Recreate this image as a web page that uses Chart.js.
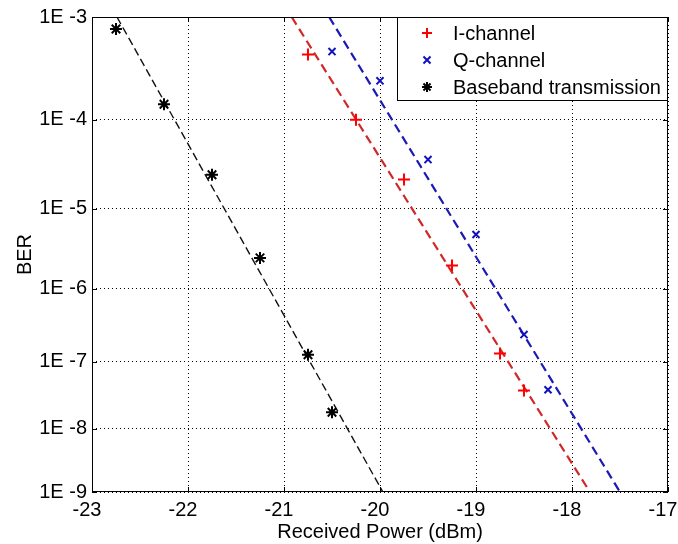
<!DOCTYPE html>
<html>
<head>
<meta charset="utf-8">
<script src="https://cdn.jsdelivr.net/npm/chart.js@4.4.1/dist/chart.umd.min.js"></script>
<style>
  html, body { margin: 0; padding: 0; background: #fff; }
  #wrap { width: 678px; height: 544px; }
</style>
</head>
<body>
<div id="wrap"><canvas id="berChart" width="678" height="544"></canvas></div>
<script>
// x ticks (dBm) and y ticks (BER exponents)
const xTicks = [-23, -22, -21, -20, -19, -18, -17];
const yExps = [-3, -4, -5, -6, -7, -8, -9];
const yTickLabels = ["1E -3", "1E -4", "1E -5", "1E -6", "1E -7", "1E -8", "1E -9"];

// measured points
const iX = [-20.75, -20.25, -19.75, -19.25, -18.75, -18.5];
const iBER = [4.5e-4, 1.0e-4, 2.2e-5, 2.0e-6, 1.3e-7, 3.8e-8];
const qX = [-20.5, -20.0, -19.5, -19.0, -18.5, -18.25];
const qBER = [4.8e-4, 2.5e-4, 3.7e-5, 4.9e-6, 2.4e-7, 3.9e-8];
const baseX = [-22.75, -22.25, -21.75, -21.25, -20.75, -20.5];
const baseBER = [7.8e-4, 1.45e-4, 2.5e-5, 2.5e-6, 1.25e-7, 1.8e-8];

// fitted lines (end points)
const iFitX = [-20.92, -17.83];
const iFitBER = [1e-3, 1.1e-9];
const qFitX = [-20.53, -17.5];
const qFitBER = [1e-3, 1e-9];
const baseFitX = [-22.74, -19.97];
const baseFitBER = [1e-3, 1e-9];

// BER axis is linear in Q (inverse normal), like the usual BER paper
function normInv(p) {
  const a = [-3.969683028665376e+01, 2.209460984245205e+02, -2.759285104469687e+02, 1.383577518672690e+02, -3.066479806614716e+01, 2.506628277459239e+00];
  const b = [-5.447609879822406e+01, 1.615858368580409e+02, -1.556989798598866e+02, 6.680131188771972e+01, -1.328068155288572e+01];
  const c = [-7.784894002430293e-03, -3.223964580411365e-01, -2.400758277161838e+00, -2.549732539343734e+00, 4.374664141464968e+00, 2.938163982698783e+00];
  const d = [7.784695709041462e-03, 3.224671290700398e-01, 2.445134137142996e+00, 3.754408661907416e+00];
  const pl = 0.02425;
  if (p < pl) {
    const q = Math.sqrt(-2 * Math.log(p));
    return (((((c[0]*q+c[1])*q+c[2])*q+c[3])*q+c[4])*q+c[5]) /
           ((((d[0]*q+d[1])*q+d[2])*q+d[3])*q+1);
  }
  const q = p - 0.5, r = q * q;
  return (((((a[0]*r+a[1])*r+a[2])*r+a[3])*r+a[4])*r+a[5])*q /
         (((((b[0]*r+b[1])*r+b[2])*r+b[3])*r+b[4])*r+1);
}
const qOf = (ber) => -normInv(ber);
const toPts = (xs, bers) => xs.map((x, i) => ({ x: x, y: qOf(bers[i]) }));

const FONT = "'Liberation Sans', Arial, sans-serif";

const boxPlugin = {
  id: "box",
  afterDraw(chart) {
    const { ctx, chartArea: a, scales } = chart;
    ctx.save();
    ctx.strokeStyle = "#000";
    ctx.lineWidth = 1;
    ctx.strokeRect(a.left + 0.5, a.top + 0.5, a.right - a.left - 1, a.bottom - a.top - 1);
    // inward tick marks
    const tl = 5;
    ctx.beginPath();
    xTicks.forEach((v) => {
      const px = Math.round(scales.x.getPixelForValue(v)) + 0.5;
      ctx.moveTo(px, a.bottom); ctx.lineTo(px, a.bottom - tl);
      ctx.moveTo(px, a.top); ctx.lineTo(px, a.top + tl);
    });
    yExps.forEach((e) => {
      const py = Math.round(scales.y.getPixelForValue(qOf(Math.pow(10, e)))) + 0.5;
      ctx.moveTo(a.left, py); ctx.lineTo(a.left + tl, py);
      ctx.moveTo(a.right, py); ctx.lineTo(a.right - tl, py);
    });
    ctx.stroke();

    // legend box in the upper right corner
    const lx = 397, ly = a.top, lw = a.right - lx, lh = 84;
    ctx.fillStyle = "#fff";
    ctx.fillRect(lx, ly, lw, lh);
    ctx.strokeRect(lx + 0.5, ly + 0.5, lw - 1, lh - 1);
    const items = [chart.data.datasets[0], chart.data.datasets[1], chart.data.datasets[2]];
    ctx.font = "20px " + FONT;
    ctx.textBaseline = "middle";
    ctx.textAlign = "left";
    items.forEach((ds, i) => {
      const y = ly + 16 + i * 27;
      ctx.strokeStyle = ds.borderColor;
      ctx.lineWidth = ds.pointBorderWidth;
      Chart.helpers.drawPoint(ctx, { pointStyle: ds.pointStyle, radius: 5, rotation: 0, borderWidth: ds.pointBorderWidth }, lx + 30, y);
      ctx.fillStyle = "#000";
      ctx.fillText(ds.label, lx + 56, y + 1);
    });
    ctx.restore();
  }
};

new Chart(document.getElementById("berChart"), {
  type: "scatter",
  data: {
    datasets: [
      { label: "I-channel", data: toPts(iX, iBER), pointStyle: "cross", pointRadius: 6, pointBorderWidth: 2, borderColor: "#ff0000", backgroundColor: "#ff0000", showLine: false },
      { label: "Q-channel", data: toPts(qX, qBER), pointStyle: "crossRot", pointRadius: 5, pointBorderWidth: 2, borderColor: "#1010c0", backgroundColor: "#1010c0", showLine: false },
      { label: "Baseband transmission", data: toPts(baseX, baseBER), pointStyle: "star", pointRadius: 6, pointBorderWidth: 2, borderColor: "#000", backgroundColor: "#000", showLine: false },
      { label: "I fit", data: toPts(iFitX, iFitBER), showLine: true, pointRadius: 0, borderColor: "#d02828", borderWidth: 2.2, borderDash: [9, 5] },
      { label: "Q fit", data: toPts(qFitX, qFitBER), showLine: true, pointRadius: 0, borderColor: "#1a1ab4", borderWidth: 2.2, borderDash: [9, 5] },
      { label: "Baseband fit", data: toPts(baseFitX, baseFitBER), showLine: true, pointRadius: 0, borderColor: "#111", borderWidth: 1.4, borderDash: [8, 4] }
    ]
  },
  options: {
    responsive: false,
    animation: false,
    devicePixelRatio: 1,
    layout: { padding: { left: 0, top: 17, right: 10, bottom: 0 } },
    plugins: { legend: { display: false }, tooltip: { enabled: false } },
    scales: {
      x: {
        type: "linear",
        min: -23,
        max: -17,
        afterBuildTicks: (s) => { s.ticks = xTicks.map((v) => ({ value: v })); },
        afterFit: (s) => { s.height = 52; s.paddingLeft = 0; s.paddingRight = 0; },
        grid: { color: "#000", lineWidth: 1, drawTicks: false },
        border: { display: false, dash: [1, 3] },
        ticks: { color: "#000", padding: 6, labelOffset: -5, font: { family: FONT, size: 20 }, maxRotation: 0, callback: (v) => String(v) },
        title: { display: true, text: "Received Power (dBm)", color: "#000", font: { family: FONT, size: 20 }, padding: { top: 0, bottom: 0 } }
      },
      y: {
        type: "linear",
        reverse: true,
        min: qOf(1e-3),
        max: qOf(1e-9),
        afterBuildTicks: (s) => { s.ticks = yExps.map((e) => ({ value: qOf(Math.pow(10, e)) })); },
        afterFit: (s) => { s.width = 92; s.paddingTop = 0; s.paddingBottom = 0; },
        grid: { color: "#000", lineWidth: 1, drawTicks: false },
        border: { display: false, dash: [1, 3] },
        ticks: { color: "#000", padding: 5, font: { family: FONT, size: 20 }, callback: (v, i) => yTickLabels[i] },
        title: { display: true, text: "BER", color: "#000", font: { family: FONT, size: 20 }, padding: { top: 13, bottom: 0 } }
      }
    }
  },
  plugins: [boxPlugin]
});
</script>
</body>
</html>
